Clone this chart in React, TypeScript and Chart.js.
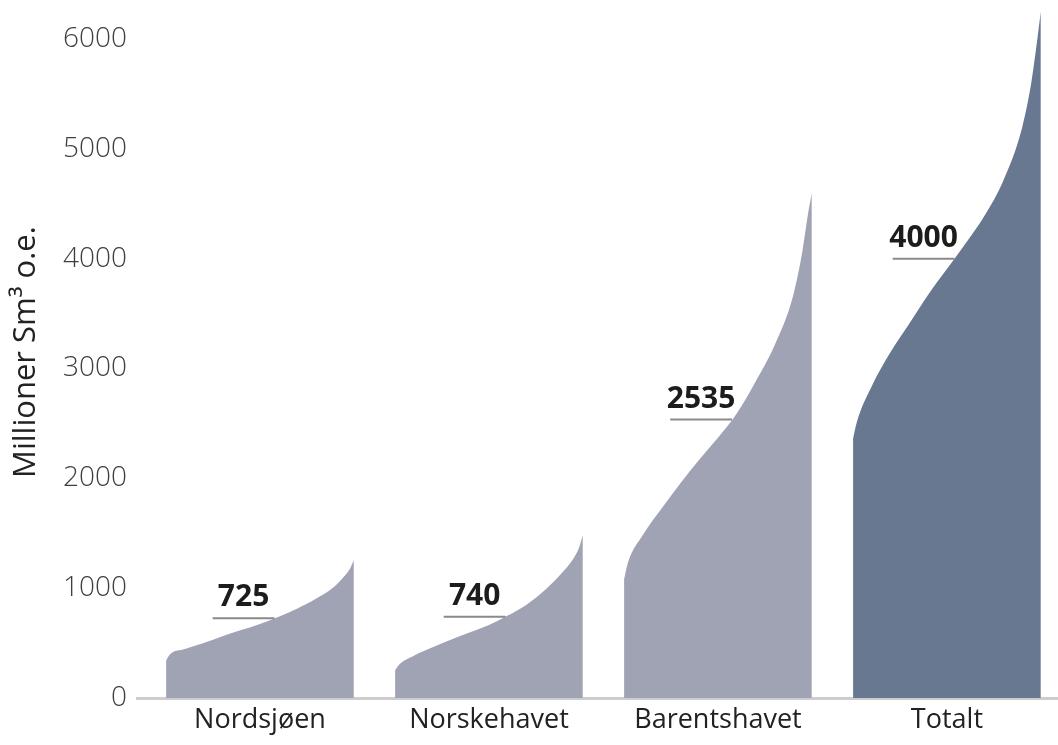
import React, { useEffect, useRef } from "react";
import { Chart, registerables } from "chart.js";

Chart.register(...registerables);

// ---- Data ----
const categories = ["Nordsjøen", "Norskehavet", "Barentshavet", "Totalt"];
const expectedValues = [725, 740, 2535, 4000];
// position along each shape (0 = left edge, 1 = right edge)
const curveFractions = [0, 0.02, 0.1, 0.2, 0.3, 0.4, 0.5, 0.6, 0.7, 0.8, 0.9, 0.95, 0.98, 1.0];
const nordsjoenValues = [340, 395, 445, 500, 562, 618, 674, 740, 815, 905, 1020, 1110, 1180, 1257];
const norskehavetValues = [250, 300, 385, 462, 532, 598, 665, 750, 850, 985, 1160, 1270, 1370, 1485];
const barentshavetValues = [1080, 1230, 1485, 1725, 1955, 2170, 2370, 2590, 2880, 3205, 3660, 4070, 4410, 4600];
const totaltValues = [2360, 2510, 2840, 3150, 3410, 3672, 3905, 4140, 4390, 4710, 5190, 5610, 5980, 6250];
const yTicks = [0, 1000, 2000, 3000, 4000, 5000, 6000];
const yTitle = "Millioner Sm³ o.e.";

const seriesValues = [nordsjoenValues, norskehavetValues, barentshavetValues, totaltValues];

// ---- Styles ----
const FONT = "'Open Sans', 'DejaVu Sans', sans-serif";
const shapeColors = ["#a0a3b4", "#a0a3b4", "#a0a3b4", "#687891"];
const SHAPE_HALF = 0.41; // half width of each shape, in category units
const MARKER_LEN = 0.27; // marker line length, in category units

function crossingFraction(values: number[], target: number): number {
  for (let k = 1; k < values.length; k++) {
    const a = values[k - 1];
    const b = values[k];
    if (a <= target && b >= target) {
      const t = b === a ? 0 : (target - a) / (b - a);
      return curveFractions[k - 1] + t * (curveFractions[k] - curveFractions[k - 1]);
    }
  }
  return 0;
}

const toX = (i: number, f: number) => i - SHAPE_HALF + f * SHAPE_HALF * 2;

const markerLabels = {
  id: "markerLabels",
  afterDatasetsDraw(chart: any) {
    const ctx = chart.ctx;
    ctx.save();
    ctx.font = `bold 30px ${FONT}`;
    ctx.fillStyle = "#1c1c1c";
    ctx.textAlign = "center";
    ctx.textBaseline = "alphabetic";
    chart.data.datasets.forEach((ds: any, di: number) => {
      if (!ds.isMarker) return;
      const meta = chart.getDatasetMeta(di);
      const p0 = meta.data[0];
      const p1 = meta.data[1];
      if (!p0 || !p1) return;
      ctx.fillText(String(ds.markerLabel), (p0.x + p1.x) / 2, p0.y - 12);
    });
    ctx.restore();
  },
};

export default function App() {
  const canvasRef = useRef<HTMLCanvasElement | null>(null);

  useEffect(() => {
    if (!canvasRef.current) return;

    const areaDatasets = seriesValues.map((vals, i) => ({
      label: categories[i],
      data: vals.map((v, k) => ({ x: toX(i, curveFractions[k]), y: v })),
      backgroundColor: shapeColors[i],
      borderColor: shapeColors[i],
      borderWidth: 0,
      pointRadius: 0,
      fill: "origin",
      cubicInterpolationMode: "monotone" as const,
      order: 2,
    }));

    const markerDatasets = expectedValues.map((v, i) => {
      const fEnd = crossingFraction(seriesValues[i], v);
      const xEnd = toX(i, fEnd);
      return {
        label: `marker-${i}`,
        isMarker: true,
        markerLabel: v,
        data: [
          { x: xEnd - MARKER_LEN, y: v },
          { x: xEnd, y: v },
        ],
        borderColor: "#8a8a8a",
        borderWidth: 2,
        pointRadius: 0,
        fill: false,
        order: 1,
      };
    });

    const chart = new Chart(canvasRef.current, {
      type: "line",
      data: { datasets: [...areaDatasets, ...markerDatasets] as any },
      options: {
        animation: false,
        responsive: true,
        maintainAspectRatio: false,
        layout: { padding: { top: 6, left: 0, right: 0, bottom: 0 } },
        plugins: {
          legend: { display: false },
          tooltip: { enabled: false },
        },
        scales: {
          x: {
            type: "linear",
            min: -0.537,
            max: 3.485,
            afterBuildTicks: (scale: any) => {
              scale.ticks = categories.map((_, i) => ({ value: i }));
            },
            afterFit: (scale: any) => {
              scale.height = 47;
              scale.paddingLeft = 0;
              scale.paddingRight = 0;
            },
            ticks: {
              callback: (v: any) => categories[Math.round(Number(v))] ?? "",
              font: { family: FONT, size: 27 },
              color: "#222222",
              padding: 6,
              maxRotation: 0,
              autoSkip: false,
            },
            grid: { display: false, drawTicks: false },
            border: { display: true, color: "#cdcdcd", width: 3 },
          },
          y: {
            type: "linear",
            min: 0,
            max: 6300,
            afterBuildTicks: (scale: any) => {
              scale.ticks = yTicks.map((v) => ({ value: v }));
            },
            afterFit: (scale: any) => {
              scale.width = 137;
              scale.paddingTop = 0;
              scale.paddingBottom = 0;
            },
            ticks: {
              callback: (v: any) => String(v),
              font: { family: FONT, size: 28, weight: "300" },
              color: "#3f3f3f",
              padding: 10,
            },
            grid: { display: false, drawTicks: false },
            border: { display: false },
            title: {
              display: true,
              text: yTitle,
              font: { family: FONT, size: 31 },
              color: "#222222",
              padding: { top: 8, bottom: 0 },
            },
          },
        },
      },
      plugins: [markerLabels],
    });

    return () => chart.destroy();
  }, []);

  return (
    <div style={{ position: "fixed", left: 0, top: 0, width: 1058, height: 745, background: "#ffffff" }}>
      <canvas ref={canvasRef} />
    </div>
  );
}
